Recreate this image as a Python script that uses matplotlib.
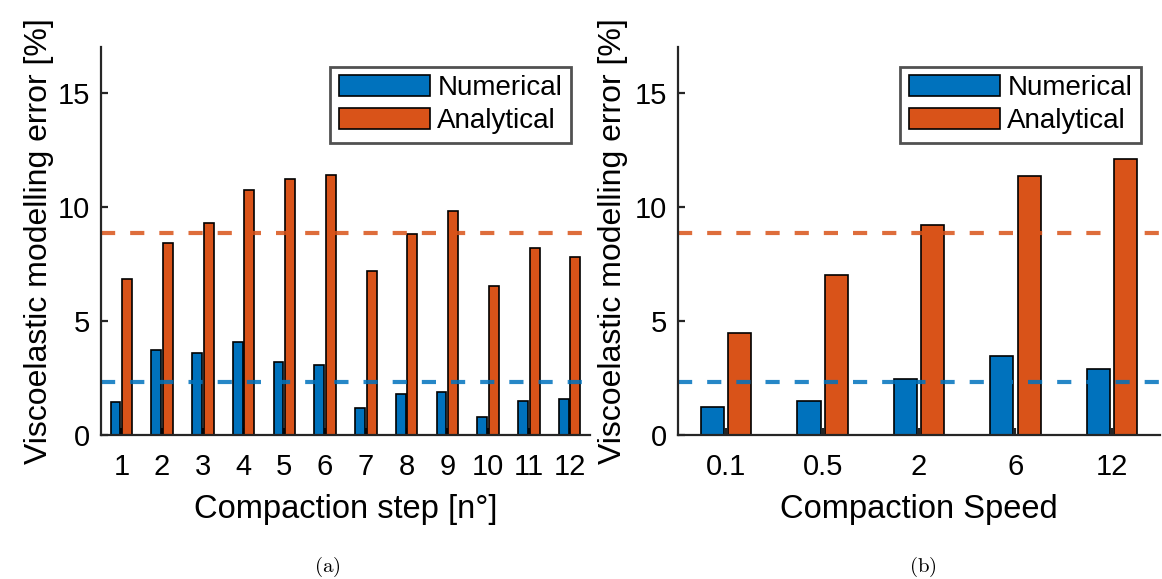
import numpy as np
import matplotlib
matplotlib.use("Agg")
import matplotlib.pyplot as plt

plt.rcParams["font.family"] = ["Liberation Sans", "DejaVu Sans"]
plt.rcParams["mathtext.fontset"] = "cm"

# ── viscoelastic modelling error [%] ────────────────────────────────────────────
steps = ["1", "2", "3", "4", "5", "6", "7", "8", "9", "10", "11", "12"]
step_num = [1.43, 3.73, 3.60, 4.06, 3.22, 3.05, 1.19, 1.80, 1.87, 0.79, 1.48, 1.57]
step_ana = [6.82, 8.40, 9.27, 10.73, 11.23, 11.38, 7.19, 8.83, 9.82, 6.52, 8.20, 7.82]

speeds = ["0.1", "0.5", "2", "6", "12"]
speed_num = [1.24, 1.48, 2.47, 3.47, 2.88]
speed_ana = [4.49, 7.00, 9.19, 11.36, 12.09]

# mean errors over all compaction steps (reference lines in both panels)
mean_num = np.mean(step_num)
mean_ana = np.mean(step_ana)

BLUE = "#0072BD"
ORANGE = "#D95319"
AXC = "#262626"

fig = plt.figure(figsize=(11.62, 5.79), dpi=100)
ax_a = fig.add_axes([0.0869, 0.2487, 0.4208, 0.670])
ax_b = fig.add_axes([0.5835, 0.2487, 0.4148, 0.670])


def grouped(ax, labels, num, ana, ylab_x):
    x = np.arange(1, len(labels) + 1)
    ax.bar(x - 0.142, num, width=0.24, color=BLUE, edgecolor="black", lw=1.2,
           label="Numerical", zorder=2)
    ax.bar(x + 0.142, ana, width=0.24, color=ORANGE, edgecolor="black", lw=1.2,
           label="Analytical", zorder=2)
    ax.axhline(mean_num, color=BLUE, lw=3, ls=(0, (3.4, 3.6)), alpha=0.85, zorder=3)
    ax.axhline(mean_ana, color=ORANGE, lw=3, ls=(0, (3.4, 3.6)), alpha=0.85, zorder=3)
    ax.set_xlim(0.5, len(labels) + 0.5)
    ax.set_ylim(0, 17)
    ax.set_xticks(x)
    ax.set_xticklabels(labels)
    ax.set_yticks([0, 5, 10, 15])
    for s in ("top", "right"):
        ax.spines[s].set_visible(False)
    for s in ("left", "bottom"):
        ax.spines[s].set_linewidth(1.6)
        ax.spines[s].set_color(AXC)
        ax.spines[s].set_zorder(4)
    ax.tick_params(direction="in", length=5, width=1.6, color=AXC,
                   labelsize=21, labelcolor="black")
    ax.tick_params(axis="x", pad=13)
    ax.tick_params(axis="y", pad=8)
    ax.set_ylabel("Viscoelastic modelling error [%]", fontsize=23)
    ax.yaxis.set_label_coords(ylab_x, 0.5)
    leg = ax.legend(loc="upper right", fontsize=20, frameon=True, fancybox=False,
                    edgecolor=AXC, handlelength=3.3, handleheight=0.8,
                    borderpad=0.3, labelspacing=0.25, handletextpad=0.25,
                    borderaxespad=0.7)
    leg.get_frame().set_linewidth(2.0)


grouped(ax_a, steps, step_num, step_ana, -0.096)
ax_a.set_xlabel("Compaction step [n°]", fontsize=23.5, labelpad=9)
grouped(ax_b, speeds, speed_num, speed_ana, -0.104)
ax_b.set_xlabel("Compaction Speed", fontsize=23.5, labelpad=9)

fig.text(0.2814, 0.012, r"$\mathrm{(a)}$", ha="center", fontsize=15)
fig.text(0.7943, 0.012, r"$\mathrm{(b)}$", ha="center", fontsize=15)

fig.savefig("out.png", dpi=100)
